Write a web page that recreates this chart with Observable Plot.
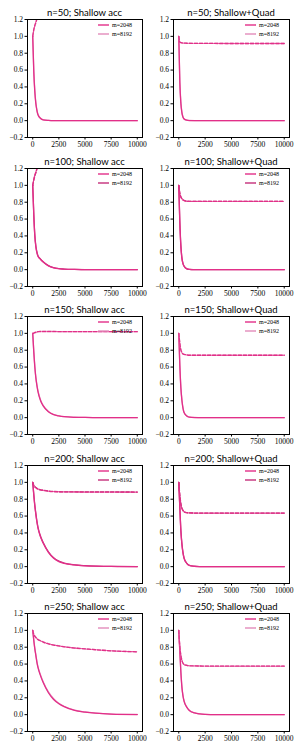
<!DOCTYPE html>
<html><head><meta charset="utf-8">
<script src="https://cdn.jsdelivr.net/npm/d3@7"></script>
<script src="https://cdn.jsdelivr.net/npm/@observablehq/plot@0.6"></script>
<style>
body{margin:0;background:#fff;}
#chart{position:relative;width:300px;height:750px;overflow:hidden;background:#fff;}
.panel{position:absolute;width:150px;height:150px;}
.panel svg{position:absolute;left:0;top:0;overflow:visible;}
</style></head><body><div id="chart"></div>
<script>
// ---------- data ----------
const steps = [0,100,200,300,400,500,750,1000,1500,2000,2500,3000,4000,5000,6000,7500,10000];
const nValues = [50,100,150,200,250];
const methods = ["Shallow acc","Shallow+Quad"];
const mValues = [2048, 8192];
const xTicks = [0,2500,5000,7500,10000];
const yTicks = [-0.2,0,0.2,0.4,0.6,0.8,1.0,1.2];

// Shallow acc — solid (s) and dashed (d) curves
const acc50_2048_s = [1.00,0.58,0.34,0.20,0.12,0.07,0.025,0.008,0.002,0,0,0,0,0,0,0,0];
const acc50_8192_s = [1.00,0.60,0.36,0.21,0.13,0.075,0.028,0.010,0.003,0.001,0.001,0.001,0.001,0.001,0.001,0,0];
const acc50_2048_d = [1.00,1.08,1.13,1.17,1.21,1.25,1.33,1.40,1.50,1.58,1.64,1.69,1.76,1.81,1.85,1.89,1.93];
const acc50_8192_d = [1.00,1.07,1.12,1.16,1.20,1.24,1.32,1.39,1.49,1.57,1.63,1.68,1.75,1.80,1.84,1.88,1.92];

const acc100_2048_s = [1.00,0.65,0.40,0.27,0.20,0.16,0.12,0.09,0.045,0.022,0.011,0.006,0.002,0.001,0,0,0];
const acc100_8192_s = [1.00,0.66,0.41,0.28,0.21,0.165,0.125,0.093,0.047,0.024,0.012,0.007,0.003,0.001,0.001,0,0];
const acc100_2048_d = [1.00,1.07,1.12,1.16,1.20,1.24,1.32,1.39,1.48,1.55,1.60,1.64,1.70,1.74,1.77,1.80,1.83];
const acc100_8192_d = [1.00,1.06,1.11,1.15,1.19,1.23,1.31,1.38,1.47,1.54,1.59,1.63,1.69,1.73,1.76,1.79,1.82];

const acc150_2048_s = [1.00,0.78,0.60,0.47,0.38,0.31,0.20,0.14,0.07,0.035,0.02,0.011,0.004,0.002,0.001,0,0];
const acc150_8192_s = [1.00,0.79,0.61,0.48,0.39,0.32,0.21,0.145,0.073,0.037,0.021,0.012,0.005,0.002,0.001,0,0];
const acc150_2048_d = [1.00,1.00,1.01,1.01,1.015,1.02,1.02,1.02,1.02,1.02,1.02,1.02,1.02,1.02,1.02,1.02,1.02];
const acc150_8192_d = [1.00,1.005,1.01,1.015,1.02,1.02,1.025,1.025,1.025,1.025,1.02,1.02,1.02,1.02,1.02,1.02,1.02];

const acc200_2048_s = [1.00,0.85,0.72,0.62,0.53,0.46,0.35,0.28,0.17,0.10,0.06,0.04,0.02,0.01,0.005,0.002,0];
const acc200_8192_s = [1.00,0.86,0.73,0.63,0.54,0.47,0.36,0.285,0.175,0.105,0.065,0.043,0.022,0.012,0.006,0.003,0.001];
const acc200_2048_d = [1.00,0.96,0.945,0.935,0.925,0.92,0.91,0.905,0.895,0.89,0.888,0.887,0.886,0.885,0.885,0.885,0.885];
const acc200_8192_d = [1.00,0.965,0.95,0.94,0.93,0.922,0.912,0.906,0.897,0.892,0.889,0.888,0.887,0.886,0.886,0.886,0.885];

const acc250_2048_s = [1.00,0.88,0.78,0.70,0.62,0.56,0.46,0.38,0.26,0.18,0.13,0.095,0.05,0.03,0.017,0.006,0.001];
const acc250_8192_s = [1.00,0.89,0.79,0.71,0.63,0.57,0.47,0.39,0.27,0.19,0.135,0.10,0.055,0.032,0.018,0.007,0.002];
const acc250_2048_d = [1.00,0.95,0.93,0.915,0.90,0.89,0.875,0.86,0.84,0.825,0.815,0.805,0.79,0.78,0.77,0.757,0.745];
const acc250_8192_d = [1.00,0.955,0.935,0.92,0.905,0.895,0.878,0.863,0.842,0.827,0.817,0.807,0.792,0.781,0.771,0.758,0.746];

// Shallow+Quad
const quad50_2048_s = [1.00,0.45,0.20,0.09,0.04,0.02,0.005,0.001,0,0,0,0,0,0,0,0,0];
const quad50_8192_s = [1.00,0.47,0.22,0.10,0.045,0.022,0.006,0.002,0.001,0.001,0.001,0,0,0,0,0,0];
const quad50_2048_d = [1.00,0.93,0.925,0.922,0.92,0.92,0.918,0.917,0.917,0.916,0.916,0.916,0.915,0.915,0.915,0.915,0.915];
const quad50_8192_d = [1.00,0.935,0.927,0.923,0.921,0.92,0.919,0.918,0.917,0.917,0.916,0.916,0.916,0.915,0.915,0.915,0.915];

const quad100_2048_s = [1.00,0.55,0.27,0.13,0.07,0.04,0.01,0.003,0,0,0,0,0,0,0,0,0];
const quad100_8192_s = [1.00,0.57,0.29,0.14,0.075,0.043,0.012,0.004,0.001,0,0,0,0,0,0,0,0];
const quad100_2048_d = [1.00,0.90,0.86,0.84,0.825,0.82,0.812,0.81,0.81,0.81,0.81,0.81,0.81,0.81,0.81,0.81,0.81];
const quad100_8192_d = [1.00,0.91,0.865,0.843,0.828,0.822,0.813,0.811,0.81,0.81,0.81,0.81,0.81,0.81,0.81,0.81,0.81];

const quad150_2048_s = [1.00,0.62,0.35,0.20,0.11,0.06,0.02,0.006,0.001,0,0,0,0,0,0,0,0];
const quad150_8192_s = [1.00,0.63,0.36,0.21,0.12,0.065,0.022,0.007,0.002,0.001,0,0,0,0,0,0,0];
const quad150_2048_d = [1.00,0.88,0.80,0.77,0.755,0.75,0.745,0.74,0.74,0.74,0.74,0.74,0.74,0.74,0.74,0.74,0.74];
const quad150_8192_d = [1.00,0.89,0.81,0.775,0.758,0.752,0.746,0.742,0.741,0.74,0.74,0.74,0.74,0.74,0.74,0.74,0.74];

const quad200_2048_s = [1.00,0.70,0.42,0.26,0.16,0.10,0.04,0.015,0.004,0.001,0,0,0,0,0,0,0];
const quad200_8192_s = [1.00,0.71,0.43,0.27,0.17,0.105,0.042,0.016,0.005,0.001,0,0,0,0,0,0,0];
const quad200_2048_d = [1.00,0.84,0.74,0.69,0.665,0.65,0.64,0.637,0.636,0.635,0.635,0.635,0.635,0.635,0.635,0.635,0.635];
const quad200_8192_d = [1.00,0.85,0.75,0.695,0.668,0.652,0.641,0.638,0.636,0.635,0.635,0.635,0.635,0.635,0.635,0.635,0.635];

const quad250_2048_s = [1.00,0.75,0.50,0.32,0.22,0.16,0.09,0.05,0.02,0.008,0.003,0.001,0,0,0,0,0];
const quad250_8192_s = [1.00,0.76,0.51,0.33,0.23,0.165,0.093,0.052,0.021,0.009,0.003,0.001,0,0,0,0,0];
const quad250_2048_d = [1.00,0.80,0.70,0.64,0.61,0.595,0.585,0.58,0.578,0.577,0.576,0.575,0.575,0.575,0.575,0.575,0.575];
const quad250_8192_d = [1.00,0.81,0.71,0.645,0.613,0.597,0.586,0.581,0.578,0.577,0.576,0.575,0.575,0.575,0.575,0.575,0.575];

const curves = {
  "Shallow acc": {
    50:  [[acc50_2048_s, acc50_2048_d], [acc50_8192_s, acc50_8192_d]],
    100: [[acc100_2048_s, acc100_2048_d], [acc100_8192_s, acc100_8192_d]],
    150: [[acc150_2048_s, acc150_2048_d], [acc150_8192_s, acc150_8192_d]],
    200: [[acc200_2048_s, acc200_2048_d], [acc200_8192_s, acc200_8192_d]],
    250: [[acc250_2048_s, acc250_2048_d], [acc250_8192_s, acc250_8192_d]]
  },
  "Shallow+Quad": {
    50:  [[quad50_2048_s, quad50_2048_d], [quad50_8192_s, quad50_8192_d]],
    100: [[quad100_2048_s, quad100_2048_d], [quad100_8192_s, quad100_8192_d]],
    150: [[quad150_2048_s, quad150_2048_d], [quad150_8192_s, quad150_8192_d]],
    200: [[quad200_2048_s, quad200_2048_d], [quad200_8192_s, quad200_8192_d]],
    250: [[quad250_2048_s, quad250_2048_d], [quad250_8192_s, quad250_8192_d]]
  }
};

// ---------- styles ----------
const color2048 = "#e22f88";
const lightPink = "#e38cbb";
const darkPink = "#c42f7a";
const color8192 = {
  "Shallow acc": {50: lightPink, 100: darkPink, 150: lightPink, 200: darkPink, 250: lightPink},
  "Shallow+Quad": {50: lightPink, 100: darkPink, 150: lightPink, 200: darkPink, 250: lightPink}
};

const chart = document.getElementById("chart");
const W = 150, H = 150, mTop = 19, mBottom = 13;
const layout = [{ml: 27, mr: 8}, {ml: 23, mr: 11}];

nValues.forEach((n, r) => {
  methods.forEach((method, c) => {
    const {ml, mr} = layout[c];
    const div = document.createElement("div");
    div.className = "panel";
    div.style.left = (c * 150) + "px";
    div.style.top = Math.round(r * 148.5) + "px";
    chart.appendChild(div);

    const data = [];
    // draw m=8192 first, m=2048 on top
    [1, 0].forEach(mi => {
      const pair = curves[method][n][mi];
      pair.forEach((arr, k) => {
        arr.forEach((v, i) => data.push({x: steps[i], y: v, m: "m=" + mValues[mi], kind: k === 0 ? "solid" : "dashed"}));
      });
    });
    const mDomain = mValues.map(m => "m=" + m);
    const mRange = [color2048, color8192[method][n]];

    const plot = Plot.plot({
      width: W, height: H,
      marginLeft: ml, marginRight: mr, marginTop: mTop, marginBottom: mBottom,
      style: {fontFamily: "'Liberation Serif', serif", fontSize: "7.5px", background: "transparent", color: "#000"},
      x: {domain: [-500, 10500]},
      y: {domain: [-0.2, 1.2]},
      color: {domain: mDomain, range: mRange},
      marks: [
        Plot.line(data.filter(d => d.kind === "solid"), {x: "x", y: "y", z: "m", stroke: "m", strokeWidth: 1.3, curve: "monotone-x", clip: true}),
        Plot.line(data.filter(d => d.kind === "dashed"), {x: "x", y: "y", z: "m", stroke: "m", strokeWidth: 1.3, strokeDasharray: "3.5,1.6", curve: "monotone-x", clip: true}),
        Plot.axisX(xTicks, {tickFormat: d3.format("d"), tickSize: 2.5, tickPadding: 2, label: null, stroke: "#000"}),
        Plot.axisY(yTicks, {tickFormat: d3.format(".1f"), tickSize: 2.5, tickPadding: 2, label: null, stroke: "#000"}),
        Plot.frame({stroke: "#000", strokeWidth: 1})
      ]
    });
    div.appendChild(plot);

    // title + legend overlay
    const fr = W - mr, cx = (ml + fr) / 2;
    const ov = d3.create("svg").attr("width", W).attr("height", H).style("pointer-events", "none");
    ov.append("text").attr("x", cx).attr("y", 15.5).attr("text-anchor", "middle")
      .style("font-family", "Lato, 'Open Sans', sans-serif").style("font-size", "9.5px").attr("fill", "#000")
      .text(`n=${n}; ${method}`);
    mDomain.forEach((lab, i) => {
      const y = mTop + 6 + i * 9;
      ov.append("line").attr("x1", fr - 44).attr("x2", fr - 33).attr("y1", y).attr("y2", y)
        .attr("stroke", mRange[i]).attr("stroke-width", 1.4);
      ov.append("text").attr("x", fr - 30).attr("y", y).attr("dy", "0.35em")
        .style("font-family", "'Liberation Serif', serif").style("font-size", "6px").attr("fill", "#000")
        .text(lab);
    });
    div.appendChild(ov.node());
  });
});
</script>
</body></html>
